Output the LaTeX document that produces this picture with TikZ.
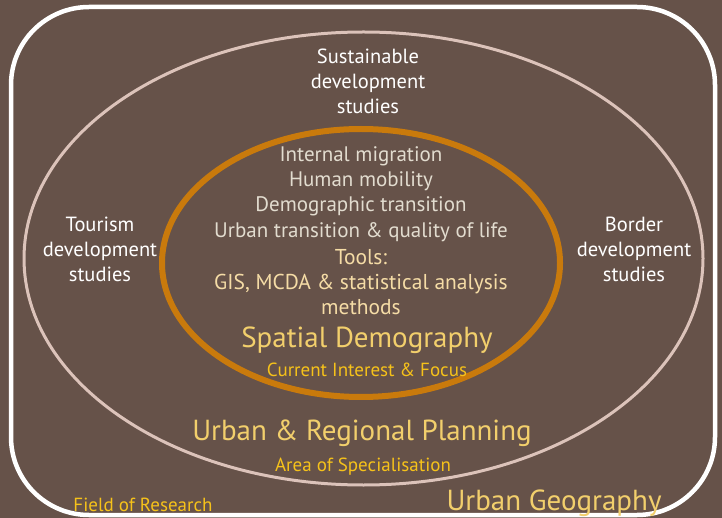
\documentclass[tikz,border=0pt]{standalone}
\usepackage{fontspec}
\setmainfont{PT Sans}
\definecolor{bg}{HTML}{665249}
\definecolor{ringpink}{HTML}{DCC3BA}
\definecolor{ringorange}{HTML}{C97A0C}
\definecolor{itemgray}{HTML}{E2DCCF}
\definecolor{toolcream}{HTML}{F5DCA6}
\definecolor{titlegold}{HTML}{F2CF6C}
\definecolor{labelgold}{HTML}{F6C21A}
\tikzset{
  whitetxt/.style={text=white, align=center, font=\fontsize{20.5}{25}\selectfont, inner sep=0pt},
  itemtxt/.style={text=itemgray, align=center, font=\fontsize{21}{25.3}\selectfont, inner sep=0pt},
  tooltxt/.style={text=toolcream, align=center, font=\fontsize{21.5}{25.3}\selectfont, inner sep=0pt},
  bigtitle/.style={text=titlegold, font=\fontsize{29}{32}\selectfont, inner sep=0pt},
  smalllabel/.style={text=labelgold, font=\fontsize{19}{22}\selectfont, inner sep=0pt},
}
\begin{document}
\begin{tikzpicture}[x=1pt,y=-1pt]
\useasboundingbox (0,0) rectangle (722,518);
\fill[bg] (0,0) rectangle (722,518);
% outer frame
\draw[white, line width=4.5pt, rounded corners=78pt] (11,7) rectangle (715,515);
% outer ellipse
\draw[ringpink, line width=3pt] (363.5,258.5) ellipse [x radius=339.5pt, y radius=226.5pt];
% inner ellipse
\draw[ringorange, line width=6pt] (361,263) ellipse [x radius=199pt, y radius=134pt];
% texts
\node[whitetxt] (sust) at (368,81) {Sustainable\\development\\studies};
\node[whitetxt] (tour) at (100,249) {Tourism\\development\\studies};
\node[whitetxt] (bord) at (634,249) {Border\\development\\studies};
\node[itemtxt] (items) at (361,194) {Internal migration\\Human mobility\\Demographic transition\\Urban transition \& quality of life};
\node[tooltxt] (tools) at (361,282) {Tools:\\GIS, MCDA \& statistical analysis\\methods};
\node[bigtitle] (spatial) at (367,340) {Spatial Demography};
\node[smalllabel] (focus) at (367,370) {Current Interest \& Focus};
\node[bigtitle] (urp) at (362,433) {Urban \& Regional Planning};
\node[smalllabel] (spec) at (363,467) {Area of Specialisation};
\node[smalllabel] (field) at (143,505) {Field of Research};
\node[bigtitle] (geo) at (554,503) {Urban Geography};
\end{tikzpicture}
\end{document}
